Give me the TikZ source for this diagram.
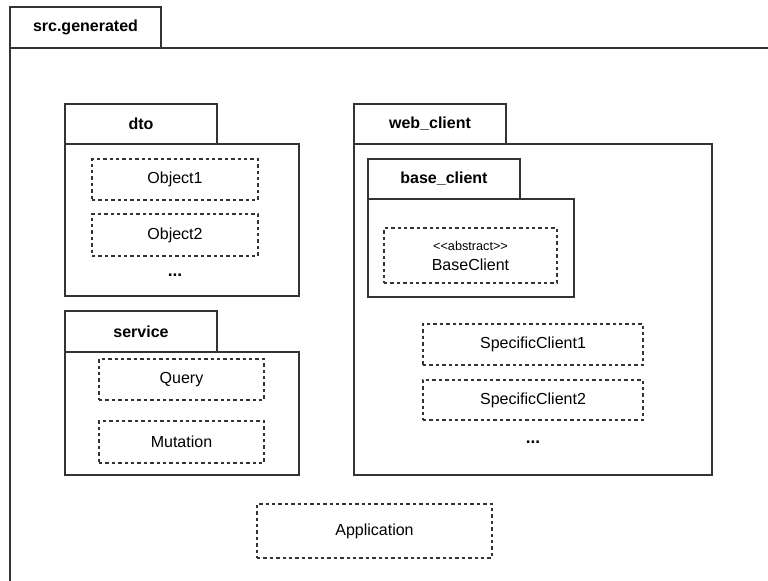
\documentclass[tikz,border=0pt]{standalone}
\usepackage{fontspec}
\setmainfont{Liberation Sans}
\definecolor{linec}{HTML}{333333}
\newcommand{\bx}[7]{%
  \node[#6, minimum width={(#4-#2)*0.75pt}, minimum height={(#5-#3)*0.75pt}] (#1) at ({(#2+#4)/2},{(#3+#5)/2}) {#7};}
\tikzset{
  solidbox/.style={draw=linec, line width=1.1pt, inner sep=0pt, fill=white},
  tabbox/.style={solidbox, font=\fontsize{12}{14}\selectfont\bfseries},
  dashbox/.style={draw=linec, line width=0.8pt, dash pattern=on 2.6pt off 2.2pt, inner sep=0pt, font=\fontsize{12}{14}\selectfont, align=center},
  dots/.style={inner sep=0pt, font=\fontsize{13}{15}\selectfont\bfseries}
}
\begin{document}
\begin{tikzpicture}[x=0.75pt, y=-0.75pt]
\clip (0,0) rectangle (768,581);
\fill[white] (0,0) rectangle (768,581);
% outer package
\bx{outerbody}{10}{48}{800}{620}{solidbox}{}
\bx{outertab}{10}{7}{161}{48}{tabbox}{src.generated}
% dto
\bx{dtotab}{65}{104}{217}{144}{tabbox}{dto}
\bx{dtobody}{65}{144}{299}{296}{solidbox}{}
\bx{obj1}{92}{159}{258}{200}{dashbox}{Object1}
\bx{obj2}{92}{214}{258}{256}{dashbox}{Object2}
\node[dots] (dtodots) at (175,275) {...};
% service
\bx{servtab}{65}{311}{217}{352}{tabbox}{service}
\bx{servbody}{65}{352}{299}{475}{solidbox}{}
\bx{query}{99}{359}{264}{400}{dashbox}{Query}
\bx{mutation}{99}{421}{264}{463}{dashbox}{Mutation}
% web_client
\bx{webtab}{354}{104}{506}{144}{tabbox}{web\_client}
\bx{webbody}{354}{144}{712}{475}{solidbox}{}
\bx{basetab}{368}{159}{520}{199}{tabbox}{base\_client}
\bx{basebody}{368}{199}{574}{297}{solidbox}{}
\bx{baseclient}{384}{228}{557}{283}{dashbox}{{\fontsize{9.5}{11}\selectfont <{}<abstract>{}>}\\[1pt]BaseClient}
\bx{spec1}{423}{324}{643}{365}{dashbox}{SpecificClient1}
\bx{spec2}{423}{380}{643}{420}{dashbox}{SpecificClient2}
\node[dots] (webdots) at (533,442) {...};
% application
\bx{app}{257}{504}{492}{558}{dashbox}{Application}
\end{tikzpicture}
\end{document}
